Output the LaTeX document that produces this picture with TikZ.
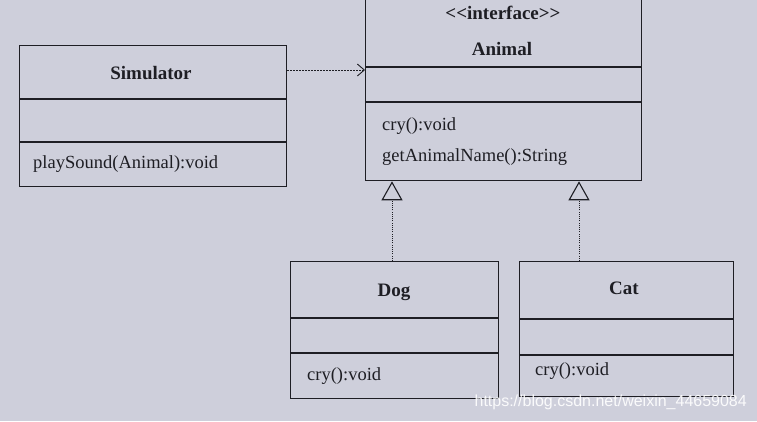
\documentclass[tikz,border=0pt]{standalone}
\usepackage{fontspec}
\setmainfont{Liberation Serif}[Ligatures=NoCommon]
\newfontfamily\wmfont{Liberation Sans}
\usetikzlibrary{arrows.meta}
\definecolor{bg}{RGB}{206,207,219}
\definecolor{ink}{RGB}{30,30,36}
\tikzset{
  box/.style={draw=ink, line width=1.3pt, rectangle, anchor=north west, inner sep=0pt},
  sep/.style={draw=ink, line width=1.3pt},
  title/.style={font=\fontsize{19}{21}\selectfont\bfseries, text=ink},
  member/.style={font=\fontsize{18.5}{20}\selectfont, text=ink, anchor=west, inner sep=0pt},
  depend/.style={draw=ink, line width=0.9pt, dash pattern=on 1.5pt off 1.5pt, -{Straight Barb[length=7pt,width=12pt,line width=0.9pt]}},
  realize/.style={draw=ink, line width=0.9pt, dash pattern=on 1pt off 1.2pt, -{Triangle[open,length=19pt,width=21pt,line width=1.1pt]}},
}
\begin{document}
\begin{tikzpicture}[x=1pt,y=-1pt]
\fill[bg] (0,0) rectangle (757,421);
\useasboundingbox (0,0) rectangle (757,421);
% Simulator
\node[box, minimum width=267pt, minimum height=141pt] (sim) at (19,45) {};
\draw[sep] (sim.west |- 0,99) -- (sim.east |- 0,99);
\draw[sep] (sim.west |- 0,142) -- (sim.east |- 0,142);
\node[title] (simt) at (151,73) {Simulator};
\node[member] (simm) at (33,164) {playSound(Animal):void};
% Animal
\node[box, minimum width=276pt, minimum height=192pt] (ani) at (365,-12) {};
\draw[sep] (ani.west |- 0,67) -- (ani.east |- 0,67);
\draw[sep] (ani.west |- 0,102) -- (ani.east |- 0,102);
\node[title] (anis) at (503,13) {{<}{<}interface{>}{>}};
\node[title] (anit) at (502,49) {Animal};
\node[member] (anim1) at (382,126) {cry():void};
\node[member] (anim2) at (382,157) {getAnimalName():String};
% Dog
\node[box, minimum width=208pt, minimum height=137pt] (dog) at (290,261) {};
\draw[sep] (dog.west |- 0,318) -- (dog.east |- 0,318);
\draw[sep] (dog.west |- 0,353) -- (dog.east |- 0,353);
\node[title] (dogt) at (394,292) {Dog};
\node[member] (dogm) at (307,376) {cry():void};
% Cat
\node[box, minimum width=214pt, minimum height=135pt] (cat) at (519,261) {};
\draw[sep] (cat.west |- 0,319) -- (cat.east |- 0,319);
\draw[sep] (cat.west |- 0,355) -- (cat.east |- 0,355);
\node[title] (catt) at (624,288) {Cat};
\node[member] (catm) at (535,371) {cry():void};
% connectors
\coordinate (dy) at (0,70);
\coordinate (dogx) at (392,0);
\coordinate (catx) at (579,0);
\draw[depend] (sim.east |- dy) -- (ani.west |- dy);
\draw[realize] (dog.north -| dogx) -- (ani.south -| dogx);
\draw[realize] (cat.north -| catx) -- (ani.south -| catx);
% watermark
\node[font=\wmfont\fontsize{16}{18}\selectfont, text=white, opacity=0.9, anchor=east, inner sep=0pt] (wm) at (747,402) {https://blog.csdn.net/weixin\_44659084};
\end{tikzpicture}
\end{document}
